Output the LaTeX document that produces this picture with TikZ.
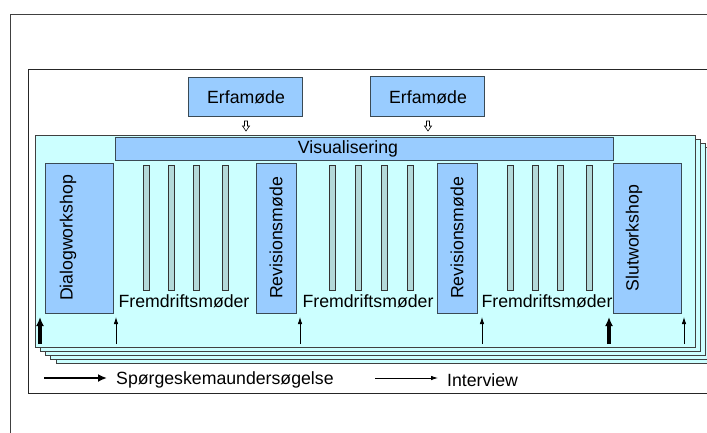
\documentclass[tikz,border=0pt]{standalone}
\usepackage{fontspec}
\setmainfont{Liberation Sans}
\usetikzlibrary{arrows.meta}
\definecolor{panelcyan}{HTML}{CCFFFF}
\definecolor{boxblue}{HTML}{99CCFF}
\definecolor{bargrey}{HTML}{B3D9D9}
\definecolor{edgegrey}{HTML}{3A4A55}
\tikzset{
    every node/.style={font=\fontsize{17.7}{20}\selectfont, inner sep=0pt},
    bluebox/.style={draw=edgegrey, line width=0.9pt, fill=boxblue},
    barbox/.style={draw=black!80, line width=0.8pt, fill=bargrey},
    layer/.style={draw=black!75, line width=0.8pt, fill=panelcyan},
    thinarrow/.style={line width=0.8pt, -{Latex[length=7pt, width=4.5pt]}},
    thickarrow/.style={line width=3.2pt, -{Latex[length=9pt, width=8pt]}},
}
\begin{document}
\begin{tikzpicture}[x = 1pt, y = -1pt]
    \clip (0,0) rectangle (707,432);
    \fill [white] (0,0) rectangle (707,432);
    % frames
    \draw [line width=0.8pt, color=black!75] (10,14) rectangle (730,460);
    \draw [line width=0.8pt, color=black!85, fill=white] (28,69) rectangle (730,393);
    % stacked panels
    \foreach \k in {4,3,2,1,0}
        \draw [layer] ({35+5.25*\k},{135+4*\k}) rectangle ({695+5.25*\k},{347+4*\k});
    % Erfamoede
    \draw [bluebox] (188,77) rectangle (302,116);
    \node (erfa1) at (246,97) {Erfamøde};
    \draw [bluebox] (370,76) rectangle (484,116);
    \node (erfa2) at (428,97) {Erfamøde};
    \foreach \x in {246,428}
        \draw [line width=0.6pt, fill=white] (\x-1.5,121) -- (\x+1.5,121) -- (\x+1.5,126)
            -- (\x+3.5,126) -- (\x,131) -- (\x-3.5,126) -- (\x-1.5,126) -- cycle;
    % Visualisering
    \draw [bluebox] (115,137) rectangle (613,160);
    \node (visual) at (348,149) {Visualisering};
    % workshops
    \draw [bluebox] (45,163) rectangle (113,313);
    \node [rotate=90] (dialog) at (68,238) {Dialogworkshop};
    \draw [bluebox] (256,163) rectangle (296,313);
    \node [rotate=90] (rev1) at (276,238) {Revisionsmøde};
    \draw [bluebox] (437,163) rectangle (477,313);
    \node [rotate=90] (rev2) at (457,238) {Revisionsmøde};
    \draw [bluebox] (613,163) rectangle (681,313);
    \node [rotate=90] (slut) at (634,238) {Slutworkshop};
    % Fremdriftsmoeder
    \foreach \x in {143,168,193,222,329,355,381,407,507,532,557,586}
        \draw [barbox] (\x,165) rectangle (\x+6,290);
    \node (frem1) at (184,301) {Fremdriftsmøder};
    \node (frem2) at (368,301) {Fremdriftsmøder};
    \node (frem3) at (547,301) {Fremdriftsmøder};
    % maalinger
    \foreach \x in {40,609}
        \draw [thickarrow] (\x,344) -- (\x,317);
    \foreach \x in {116,300,482,684}
        \draw [thinarrow] (\x,344) -- (\x,317);
    % legend
    \coordinate (q0) at (44,378);
    \coordinate (q1) at (107,378);
    \draw [thickarrow, line width=2.6pt] (q0) -- (q1);
    \node [anchor=west] (quest) at (116,380) {Spørgeskemaundersøgelse};
    \coordinate (i0) at (375,378);
    \coordinate (i1) at (438,378);
    \draw [thinarrow] (i0) -- (i1);
    \node [anchor=west] (interv) at (447,380) {Interview};
\end{tikzpicture}
\end{document}
